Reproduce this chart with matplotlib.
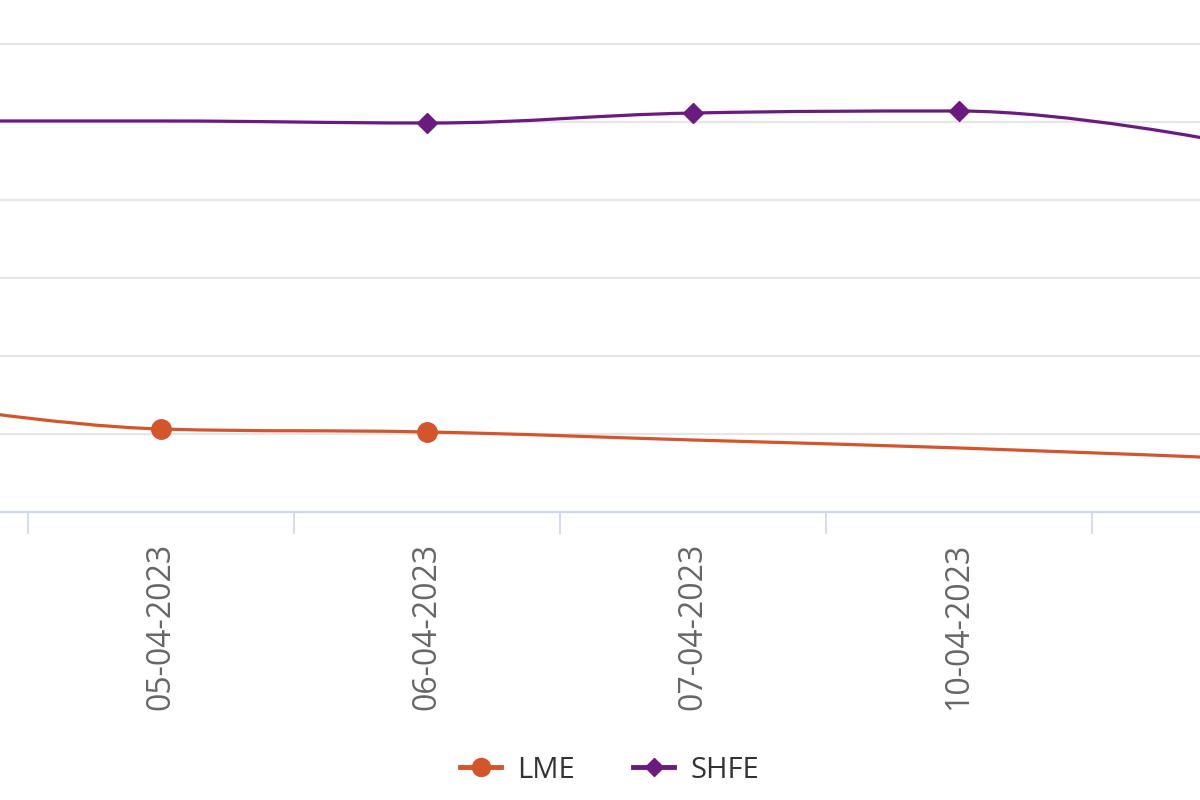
import numpy as np
import matplotlib.pyplot as plt
from matplotlib.path import Path
from matplotlib.patches import PathPatch
from matplotlib.lines import Line2D

dates = ["04-04-2023", "05-04-2023", "06-04-2023", "07-04-2023", "10-04-2023", "11-04-2023"]
lme = [1440, 1064, 1026, 923, 821, 692]
shfe = [5013, 5013, 4987, 5115, 5141, 4744]
lme_marked = [1, 2]
shfe_marked = [2, 3, 4]

LME_COL = "#d4552b"
SHFE_COL = "#6b1a80"

plt.rcParams["font.family"] = ["Open Sans", "DejaVu Sans"]


def spline_path(xs, ys, smoothing=1.5):
    # bezier path through the points, highcharts style
    n = len(xs)
    left, right = [], []
    for i in range(n):
        x, y = xs[i], ys[i]
        if i == 0 or i == n - 1:
            left.append((x, y)); right.append((x, y)); continue
        lx, ly = xs[i - 1], ys[i - 1]
        nx, ny = xs[i + 1], ys[i + 1]
        d = smoothing + 1
        lcx, lcy = (smoothing * x + lx) / d, (smoothing * y + ly) / d
        rcx, rcy = (smoothing * x + nx) / d, (smoothing * y + ny) / d
        corr = (rcy - lcy) * (rcx - x) / (rcx - lcx) + y - rcy
        lcy += corr; rcy += corr
        if lcy > ly and lcy > y:
            lcy = max(ly, y); rcy = 2 * y - lcy
        elif lcy < ly and lcy < y:
            lcy = min(ly, y); rcy = 2 * y - lcy
        if rcy > ny and rcy > y:
            rcy = max(ny, y); lcy = 2 * y - rcy
        elif rcy < ny and rcy < y:
            rcy = min(ny, y); lcy = 2 * y - rcy
        left.append((lcx, lcy)); right.append((rcx, rcy))
    verts = [(xs[0], ys[0])]
    codes = [Path.MOVETO]
    for i in range(1, n):
        verts += [right[i - 1], left[i], (xs[i], ys[i])]
        codes += [Path.CURVE4] * 3
    return Path(verts, codes)


x = np.arange(len(dates))
fig = plt.figure(figsize=(12, 8), dpi=100)
ax = fig.add_axes([0, 288 / 800, 1, 512 / 800])

for ys, col in [(lme, LME_COL), (shfe, SHFE_COL)]:
    ax.add_patch(PathPatch(spline_path(list(x), ys), fill=False, edgecolor=col,
                           linewidth=2.3, capstyle="round", zorder=3))

ax.plot(x[lme_marked], np.array(lme)[lme_marked], "o", color=LME_COL,
        markersize=14, zorder=4, clip_on=False)
ax.plot(x[shfe_marked], np.array(shfe)[shfe_marked], "D", color=SHFE_COL,
        markersize=10, zorder=4, clip_on=False)

# first and last dates sit outside the visible crop
visible = [d if 0 < i < len(dates) - 1 else "" for i, d in enumerate(dates)]
ax.set_xticks(x)
ax.set_xticklabels(visible, rotation=90, color="#666666", fontsize=23)
ax.set_xticks(x[:-1] + 0.5, minor=True)
ax.tick_params(axis="x", which="major", length=0, pad=22)
ax.tick_params(axis="x", which="minor", length=16, width=1.2, color="#ccd6eb", direction="out")

ax.set_yticks(np.arange(1000, 7000, 1000))
ax.yaxis.grid(True, color="#e6e6e6", linewidth=1.6)
ax.tick_params(axis="y", left=False, labelleft=False)

ax.set_xlim(1 - 161 / 266, 1 + 1039 / 266)
ax.set_ylim(0, 512 / 78 * 1000)

for s in ["top", "right", "left"]:
    ax.spines[s].set_visible(False)
ax.spines["bottom"].set_color("#ccd6eb")
ax.spines["bottom"].set_linewidth(1.6)

handles = [
    Line2D([], [], color=LME_COL, marker="o", markersize=13, linewidth=3.5, label="LME"),
    Line2D([], [], color=SHFE_COL, marker="D", markersize=9, linewidth=3.5, label="SHFE"),
]
fig.legend(handles=handles, loc="center", bbox_to_anchor=(0.508, 1 - 770 / 800),
           ncol=2, frameon=False, fontsize=21, handlelength=1.4, columnspacing=2.0,
           handletextpad=0.55, labelcolor="#333333")

fig.savefig("out.png", dpi=100)
